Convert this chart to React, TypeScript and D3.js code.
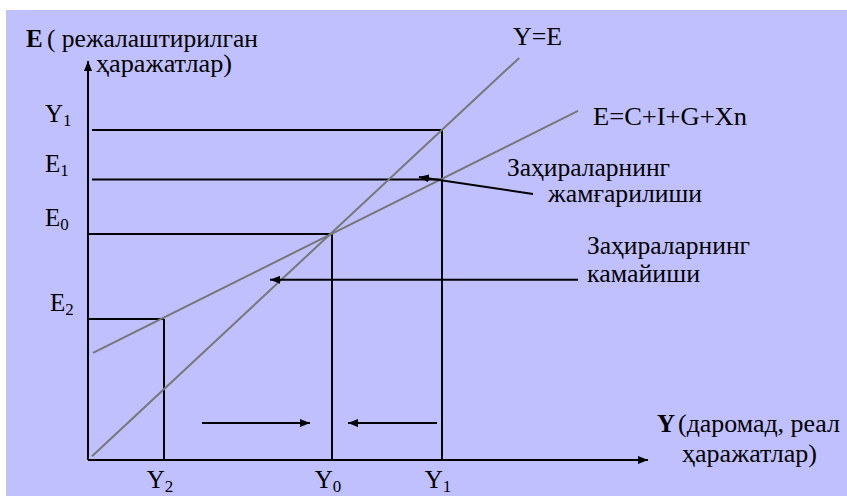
import React from "react";
import * as d3 from "d3";

// income levels on the horizontal axis
const incomeTicks = ["Y2", "Y0", "Y1"];
const incomeValues = [19, 61, 88.5];

// spending levels on the vertical axis
const spendingTicks = ["Y1", "E1", "E0", "E2"];
const spendingValues = [88.5, 75.2, 60.6, 37.8];
// how far each horizontal guide runs to the right (income units)
const spendingReach = [88.5, 88.5, 61, 19];
const spendingStart = [1, 1, 0, 0];
// level each vertical guide climbs to (spending units)
const incomeTops = [37.8, 60.6, 88.5];

// Y=E (45 degree line) and E=C+I+G+Xn (aggregate expenditure)
const yeLine: [number, number][] = [
  [1, 1],
  [107.8, 107.8],
];
const aeLine: [number, number][] = [
  [1.25, 28.7],
  [122.5, 93.6],
];

// annotation arrows [from, to] in data units
const arrows: [number, number][][] = [
  [[111.25, 71.3], [82.75, 75.9]],
  [[122.5, 48.3], [45.5, 48.3]],
  [[28.5, 9.9], [55.5, 9.9]],
  [[87.25, 9.9], [65, 9.9]],
];

const FONT = "'Liberation Serif', 'Times New Roman', serif";

const Label = ({ x, y, text, len, bold = false }: any) => (
  <text
    x={x}
    y={y}
    fontFamily={FONT}
    fontSize={25}
    fontWeight={bold ? "bold" : "normal"}
    textLength={len}
    lengthAdjust={len ? "spacingAndGlyphs" : undefined}
    fill="#000"
  >
    {text}
  </text>
);

const Sub = ({ x, y, name, anchor = "start" }: any) => (
  <text x={x} y={y} fontFamily={FONT} fontSize={25} textAnchor={anchor} fill="#000">
    {name[0]}
    <tspan fontSize={17} dy={4}>
      {name.slice(1)}
    </tspan>
  </text>
);

export default function App() {
  const width = 847;
  const height = 496;

  const x = d3.scaleLinear().domain([0, 100]).range([88, 488]);
  const y = d3.scaleLinear().domain([0, 100]).range([460, 87]);
  const line = d3
    .line<[number, number]>()
    .x((d) => x(d[0]))
    .y((d) => y(d[1]));

  return (
    <svg
      width={width}
      height={height}
      style={{ position: "absolute", left: 0, top: 0, background: "#fff" }}
    >
      <defs>
        <marker
          id="head"
          viewBox="0 0 10 8"
          refX={10}
          refY={4}
          markerWidth={10}
          markerHeight={8}
          markerUnits="userSpaceOnUse"
          orient="auto"
        >
          <path d="M0,0 L10,4 L0,8 Z" fill="#000" />
        </marker>
      </defs>
      <rect x={6} y={10} width={width - 6} height={height - 10} fill="#c0c0ff" />

      {/* horizontal guides */}
      {spendingValues.map((v, i) => (
        <line
          key={"h" + i}
          x1={x(spendingStart[i])}
          x2={x(spendingReach[i])}
          y1={y(v)}
          y2={y(v)}
          stroke="#000"
          strokeWidth={2}
        />
      ))}
      {/* vertical guides */}
      {incomeValues.map((v, i) => (
        <line
          key={"v" + i}
          x1={x(v)}
          x2={x(v)}
          y1={y(0)}
          y2={y(incomeTops[i])}
          stroke="#000"
          strokeWidth={2}
        />
      ))}

      {/* curves */}
      <path d={line(yeLine) || ""} fill="none" stroke="#777" strokeWidth={2} />
      <path d={line(aeLine) || ""} fill="none" stroke="#777" strokeWidth={2} />

      {/* arrows */}
      {arrows.map((a, i) => (
        <path
          key={"a" + i}
          d={line(a as [number, number][]) || ""}
          stroke="#000"
          strokeWidth={2}
          fill="none"
          markerEnd="url(#head)"
        />
      ))}

      {/* axes */}
      <line x1={x(0)} x2={x(0)} y1={y(0)} y2={y(107)} stroke="#000" strokeWidth={2} markerEnd="url(#head)" />
      <line x1={x(0)} x2={x(140)} y1={y(0)} y2={y(0)} stroke="#000" strokeWidth={2} markerEnd="url(#head)" />

      {/* tick labels */}
      {spendingTicks.map((t, i) => (
        <Sub key={"st" + i} x={i === 3 ? 50 : 45} y={y(spendingValues[i]) - 8} name={t} />
      ))}
      {incomeTicks.map((t, i) => (
        <Sub key={"it" + i} x={x(incomeValues[i]) - 4} y={488} name={t} anchor="middle" />
      ))}

      {/* titles */}
      <Label x={26} y={47} text="E" bold />
      <Label x={47} y={47} text="( режалаштирилган" len={211} />
      <Label x={96} y={72} text="ҳаражатлар)" len={136} />
      <Label x={513} y={45} text="Y=E" len={49} />
      <Label x={593} y={125} text="E=C+I+G+Xn" len={154} />
      <Label x={507} y={176} text="Заҳираларнинг" len={163} />
      <Label x={548} y={202} text="жамғарилиши" len={154} />
      <Label x={587} y={254} text="Заҳираларнинг" len={163} />
      <Label x={587} y={282} text="камайиши" len={113} />
      <Label x={657} y={432} text="Y" bold />
      <Label x={678} y={432} text="(даромад, реал" len={162} />
      <Label x={682} y={462} text="ҳаражатлар)" len={135} />
    </svg>
  );
}
